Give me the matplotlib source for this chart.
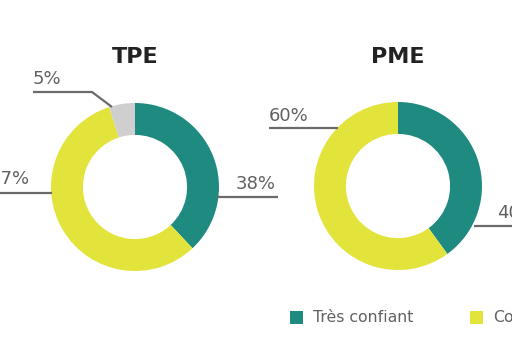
import matplotlib
matplotlib.use("Agg")
import matplotlib.pyplot as plt
from matplotlib.patches import Rectangle

# ---- data ----
titles = ["TPE", "PME"]
categories = ["Très confiant", "Confiant", "Peu confiant"]
tpe_values = [38, 57, 5]
pme_values = [40, 60, 0]
colors = ["#1e8a80", "#e2e33b", "#cfcfcf"]

W, H = 512, 341
fig = plt.figure(figsize=(W / 100, H / 100), dpi=100)
ax = fig.add_axes([0, 0, 1, 1])

def Y(y):  # pixel-from-top -> data y
    return H - y

text_col = "#616161"
line_col = "#6a6a6a"
font = "DejaVu Sans"

centers = [(135, 187), (398, 186)]
R = 84
for (cx, cy), vals, title in zip(centers, [tpe_values, pme_values], titles):
    ax.pie(vals, colors=colors, startangle=90, counterclock=False,
           center=(cx, Y(cy)), radius=R,
           wedgeprops=dict(width=R * 0.38, linewidth=0))
    ax.text(cx, Y(57), title, ha="center", va="center", fontsize=16,
            fontweight="bold", color="#222222", family=font)

# ---- value labels with leader lines (pixel layout) ----
def label(val, tx, ty, ha, line_pts):
    ax.text(tx, Y(ty), f"{val}%", ha=ha, va="center", fontsize=13,
            color=text_col, family=font)
    xs = [p[0] for p in line_pts]
    ys = [Y(p[1]) for p in line_pts]
    ax.plot(xs, ys, color=line_col, lw=1.6, solid_capstyle="butt")

# TPE
label(tpe_values[2], 33, 79, "left", [(33, 92), (92, 92), (112, 107)])
label(tpe_values[1], 30, 179, "right", [(-5, 193), (52, 193)])
label(tpe_values[0], 236, 184, "left", [(217, 197), (278, 197)])
# PME
label(pme_values[1], 269, 116, "left", [(269, 128), (338, 128)])
label(pme_values[0], 497, 213, "left", [(474, 226), (520, 226)])

# ---- legend (manual row) ----
leg_x = [290, 470, 640]
for x, c, name in zip(leg_x, colors, categories):
    ax.add_patch(Rectangle((x, Y(324)), 13, 13, color=c, lw=0))
    ax.text(x + 23, Y(318), name, ha="left", va="center", fontsize=11.3,
            color=text_col, family=font)

ax.set_xlim(0, W)
ax.set_ylim(0, H)
ax.set_aspect("auto")
ax.axis("off")
fig.savefig("out.png", dpi=100)
